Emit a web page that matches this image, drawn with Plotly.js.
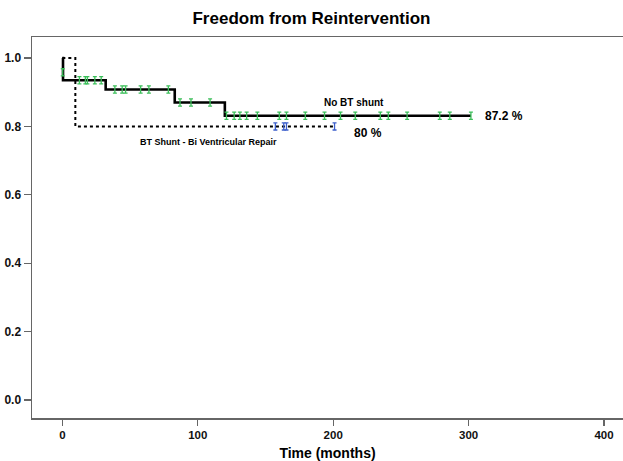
<!DOCTYPE html>
<html>
<head>
<meta charset="utf-8">
<script src="https://cdn.plot.ly/plotly-3.0.1.min.js"></script>
<style>html,body{margin:0;padding:0;background:#fff;}#chart{width:623px;height:461px;}</style>
</head>
<body>
<div id="chart"></div>
<script>
// Kaplan-Meier step data (time in months, survival proportion)
var noBtTime = [0, 0.5, 32, 83, 120, 301.7];
var noBtSurv = [1.0, 0.935, 0.908, 0.870, 0.831, 0.831];
var btTime = [0, 9.6, 201];
var btSurv = [1.0, 0.800, 0.800];

// Censored observations
var noBtCensTime = [0.3, 12.6, 17, 18.5, 24, 28.7, 38.8, 44.2, 46.7, 57.8, 63.9, 78.3, 86.9, 95, 109.1,
  121.2, 126.9, 131.1, 136.1, 144, 160.2, 165.5, 179.4, 193.6, 205.4, 216.3, 234.8, 240.7, 254.6, 278.7, 286.1, 301.7];
var noBtCensSurv = [0.958, 0.935, 0.935, 0.935, 0.935, 0.935, 0.908, 0.908, 0.908, 0.908, 0.908, 0.908, 0.870, 0.870, 0.870,
  0.831, 0.831, 0.831, 0.831, 0.831, 0.831, 0.831, 0.831, 0.831, 0.831, 0.831, 0.831, 0.831, 0.831, 0.831, 0.831, 0.831];
var btCensTime = [157.3, 163.5, 165.5, 201];
var btCensSurv = [0.800, 0.800, 0.800, 0.800];

var xTicks = [0, 100, 200, 300, 400];
var yTicks = [0.0, 0.2, 0.4, 0.6, 0.8, 1.0];
var yTickText = ["0.0", "0.2", "0.4", "0.6", "0.8", "1.0"];

var FONT = "Arial, 'Liberation Sans', sans-serif";

var traces = [
  {x: btTime, y: btSurv, mode: 'lines', line: {shape: 'hv', color: '#000', width: 2, dash: 'dot'}, name: 'BT Shunt - Bi Ventricular Repair', hoverinfo: 'skip'},
  {x: noBtTime, y: noBtSurv, mode: 'lines', line: {shape: 'hv', color: '#000', width: 2.6}, name: 'No BT shunt', hoverinfo: 'skip'},
  {x: noBtCensTime, y: noBtCensSurv, mode: 'markers', marker: {size: 1, opacity: 0}, name: 'No BT censored',
   error_y: {type: 'constant', value: 0.0105, width: 2, thickness: 1.3, color: '#3cbf5a'}},
  {x: btCensTime, y: btCensSurv, mode: 'markers', marker: {size: 1, opacity: 0}, name: 'BT censored',
   error_y: {type: 'constant', value: 0.0105, width: 2, thickness: 1.3, color: '#3d5fcc'}}
];

var layout = {
  width: 623, height: 461,
  margin: {l: 32, r: 0, t: 37, b: 43, pad: 0},
  paper_bgcolor: '#fff', plot_bgcolor: '#fff',
  showlegend: false,
  font: {family: FONT, color: '#000'},
  title: {text: '<b>Freedom from Reintervention</b>', font: {family: FONT, size: 17, color: '#000'},
          x: 0.5, xref: 'container', xanchor: 'center', y: 1 - 18/461, yref: 'container', yanchor: 'middle'},
  xaxis: {
    range: [-22.4, 414], tickvals: xTicks, ticktext: xTicks.map(String),
    showgrid: false, zeroline: false, showline: true, linecolor: '#666', linewidth: 1.5, mirror: true,
    ticks: 'outside', ticklen: 6, tickwidth: 1.3, tickcolor: '#666',
    tickfont: {family: FONT, size: 11.5, color: '#111', weight: 'bold'},
    title: {text: '<b>Time (months)</b>', font: {family: FONT, size: 14, color: '#000'}, standoff: 8},
    automargin: false, fixedrange: true
  },
  yaxis: {
    range: [-0.0526, 1.0614], tickvals: yTicks, ticktext: yTickText,
    showgrid: false, zeroline: false, showline: true, linecolor: '#666', linewidth: 1.5,
    ticks: 'outside', ticklen: 7, tickwidth: 1.3, tickcolor: '#666',
    tickfont: {family: FONT, size: 12, color: '#111', weight: 'bold'},
    automargin: false, fixedrange: true
  },
  annotations: [
    {x: 215.5, y: 0.871, xref: 'x', yref: 'y', text: '<b>No BT shunt</b>', showarrow: false, font: {family: FONT, size: 10, color: '#000'}, xanchor: 'center', yanchor: 'middle'},
    {x: 310.7, y: 0.831, xref: 'x', yref: 'y', text: '<b>87.2 %</b>', showarrow: false, font: {family: FONT, size: 12, color: '#000'}, xanchor: 'left', yanchor: 'middle'},
    {x: 225.8, y: 0.781, xref: 'x', yref: 'y', text: '<b>80 %</b>', showarrow: false, font: {family: FONT, size: 12, color: '#000'}, xanchor: 'center', yanchor: 'middle'},
    {x: 107.7, y: 0.754, xref: 'x', yref: 'y', text: '<b>BT Shunt - Bi Ventricular Repair</b>', showarrow: false, font: {family: FONT, size: 9, color: '#000'}, xanchor: 'center', yanchor: 'middle'}
  ]
};

Plotly.newPlot('chart', traces, layout, {displayModeBar: false, staticPlot: true});
</script>
</body>
</html>
